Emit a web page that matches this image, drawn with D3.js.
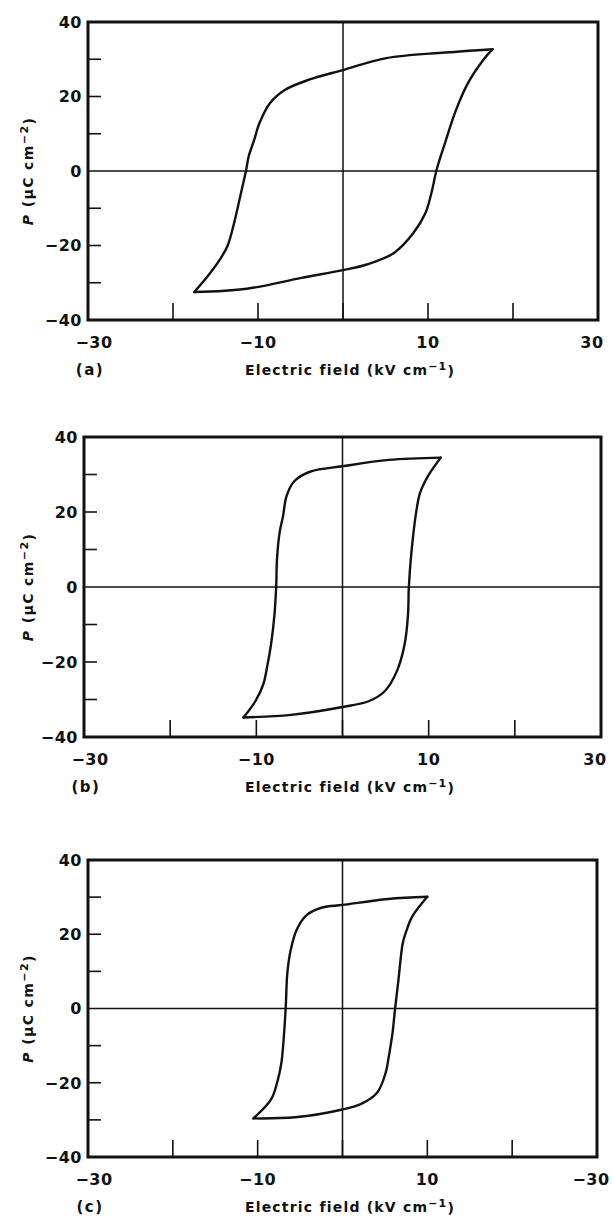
<!DOCTYPE html>
<html>
<head>
<meta charset="utf-8">
<script src="https://cdn.jsdelivr.net/npm/d3@7"></script>
<style>
body { margin: 0; background: #fff; }
text { font-family: "DejaVu Sans", sans-serif; fill: #111; }
</style>
</head>
<body>
<script>
// hysteresis loops, E (kV/cm) vs P (uC/cm2)
var loopAUpper = [[17.6,32.7],[12.0,31.8],[5.1,30.3],[0,27.1],[-4.0,24.5],[-6.8,21.8],[-8.6,18.2],[-9.8,13.0],[-10.5,8.0],[-11.1,3.9],[-11.4,0.2],[-12.0,-5.9],[-12.9,-14.8],[-13.6,-20.2],[-14.5,-23.8],[-15.9,-28.2],[-17.5,-32.5]];
var loopALower = [[-17.5,-32.5],[-11.3,-31.6],[-4.9,-28.7],[0,-26.6],[2.8,-25.1],[6.0,-22.0],[8.3,-16.6],[9.7,-11.3],[10.4,-5.9],[11.0,0.2],[12.0,7.5],[13.3,16.4],[14.7,23.6],[16.5,29.8],[17.6,32.7]];

var loopBUpper = [[11.4,34.5],[5.4,33.9],[0,32.2],[-3.7,30.8],[-5.6,28.2],[-6.5,24.2],[-6.9,18.9],[-7.3,14.5],[-7.6,7.5],[-7.7,0],[-7.9,-7.5],[-8.3,-15.4],[-8.7,-20.7],[-9.2,-26.0],[-10.1,-30.4],[-11.5,-34.8]];
var loopBLower = [[-11.5,-34.8],[-6.0,-34.1],[0,-32.0],[3.1,-30.4],[4.9,-27.8],[6.3,-22.5],[7.2,-15.4],[7.6,-7.5],[7.7,0],[8.0,9.3],[8.6,20.7],[9.0,25.1],[9.9,29.5],[11.4,34.5]];

var loopCUpper = [[10.0,30.1],[5.4,29.5],[0,27.9],[-2.4,27.2],[-4.2,25.2],[-5.4,21.2],[-6.1,15.8],[-6.5,9.6],[-6.7,0],[-7.0,-10.1],[-7.2,-14.6],[-7.7,-19.9],[-8.4,-24.4],[-10.5,-29.6]];
var loopCLower = [[-10.5,-29.6],[-5.6,-29.3],[0,-27.2],[2.2,-25.7],[4.1,-22.6],[5.1,-17.2],[5.4,-13.7],[5.9,-6.5],[6.2,0],[6.6,7.8],[7.1,17.6],[7.5,20.7],[8.2,24.7],[10.0,30.1]];

var xTickValues = [-20, -10, 0, 10, 20];
var yTickValues = [-30, -20, -10, 10, 20, 30];
var yLabelValues = [40, 20, 0, -20, -40];
var xLabelValues = [-30, -10, 10, 30];
var xLabelsAB = ["\u221230", "\u221210", "10", "30"];
var xLabelsC = ["\u221230", "\u221210", "10", "\u221230"];
var panelNames = ["(a)", "(b)", "(c)"];

var W = 612, H = 1217;
var svg = d3.select("body").append("svg")
	.attr("width", W)
	.attr("height", H);

var panels = [
	{name: panelNames[0], box: [88, 598, 22, 320], upper: loopAUpper, lower: loopALower, xl: xLabelsAB},
	{name: panelNames[1], box: [84, 601, 437, 737], upper: loopBUpper, lower: loopBLower, xl: xLabelsAB},
	{name: panelNames[2], box: [88, 597, 860, 1157], upper: loopCUpper, lower: loopCLower, xl: xLabelsC}
];

function drawPanel(p){
	var b = p.box;
	var x = d3.scaleLinear().domain([-30, 30]).range([b[0], b[1]]);
	var y = d3.scaleLinear().domain([-40, 40]).range([b[3], b[2]]);
	var g = svg.append("g");

	// zero lines
	g.append("line")
		.attr("x1", x(-30)).attr("x2", x(30))
		.attr("y1", y(0)).attr("y2", y(0))
		.style("stroke", "#111").style("stroke-width", 1.5);
	g.append("line")
		.attr("x1", x(0)).attr("x2", x(0))
		.attr("y1", y(40)).attr("y2", y(-40))
		.style("stroke", "#111").style("stroke-width", 1.5);

	// inward ticks
	g.selectAll(".xt").data(xTickValues).enter().append("line")
		.attr("x1", function(d){ return x(d); })
		.attr("x2", function(d){ return x(d); })
		.attr("y1", y(-40))
		.attr("y2", y(-40) - 17)
		.style("stroke", "#111").style("stroke-width", 1.6);
	g.selectAll(".yt").data(yTickValues).enter().append("line")
		.attr("x1", x(-30))
		.attr("x2", x(-30) + 13)
		.attr("y1", function(d){ return y(d); })
		.attr("y2", function(d){ return y(d); })
		.style("stroke", "#111").style("stroke-width", 1.6);

	// frame
	g.append("rect")
		.attr("x", x(-30)).attr("y", y(40))
		.attr("width", x(30) - x(-30))
		.attr("height", y(-40) - y(40))
		.style("fill", "none")
		.style("stroke", "#111")
		.style("stroke-width", 3);

	// loop, drawn as two branches meeting at the sharp tips
	var line = d3.line()
		.x(function(d){ return x(d[0]); })
		.y(function(d){ return y(d[1]); })
		.curve(d3.curveCatmullRom.alpha(0.5));
	[p.upper, p.lower].forEach(function(branch){
		g.append("path")
			.attr("d", line(branch))
			.style("fill", "none")
			.style("stroke", "#111")
			.style("stroke-width", 2.4)
			.style("stroke-linejoin", "round")
			.style("stroke-linecap", "round");
	});

	// tick labels
	g.selectAll(".yl").data(yLabelValues).enter().append("text")
		.attr("x", x(-30) - 6)
		.attr("y", function(d){ return y(d); })
		.attr("dy", "0.36em")
		.attr("text-anchor", "end")
		.style("font-size", "16px")
		.style("font-weight", "bold")
		.style("letter-spacing", "0.5px")
		.text(function(d){ return d < 0 ? "\u2212" + (-d) : d; });
	g.selectAll(".xl").data(xLabelValues).enter().append("text")
		.attr("x", function(d, i){ return x(d) + (i === 0 ? 6 : (i === 3 ? -6 : 0)); })
		.attr("y", y(-40) + 22)
		.attr("dy", "0.36em")
		.attr("text-anchor", "middle")
		.style("font-size", "16px")
		.style("font-weight", "bold")
		.style("letter-spacing", "0.5px")
		.text(function(d, i){ return p.xl[i]; });

	// panel tag
	g.append("text")
		.attr("x", x(-30) + 2)
		.attr("y", y(-40) + 50)
		.attr("dy", "0.36em")
		.attr("text-anchor", "middle")
		.style("font-size", "15px")
		.style("font-weight", "bold")
		.style("letter-spacing", "1.5px")
		.text(p.name);

	// x title
	var xt = g.append("text")
		.attr("x", 350)
		.attr("y", y(-40) + 50)
		.attr("dy", "0.36em")
		.attr("text-anchor", "middle")
		.style("font-size", "14px")
		.style("font-weight", "bold")
		.style("letter-spacing", "1.2px");
	xt.append("tspan").text("Electric field (kV cm");
	xt.append("tspan").attr("dy", "-0.45em").style("font-size", "11px").text("\u22121");
	xt.append("tspan").attr("dy", "0.45em").text(")");

	// y title
	var yt = g.append("text")
		.attr("transform", "translate(33," + y(0) + ") rotate(-90)")
		.attr("text-anchor", "middle")
		.style("font-size", "14px")
		.style("font-weight", "bold")
		.style("letter-spacing", "1.4px");
	yt.append("tspan").style("font-style", "italic").text("P");
	yt.append("tspan").text(" (\u03bcC cm");
	yt.append("tspan").attr("dy", "-0.45em").style("font-size", "11px").text("\u22122");
	yt.append("tspan").attr("dy", "0.45em").text(")");
}

panels.forEach(drawPanel);
</script>
</body>
</html>
